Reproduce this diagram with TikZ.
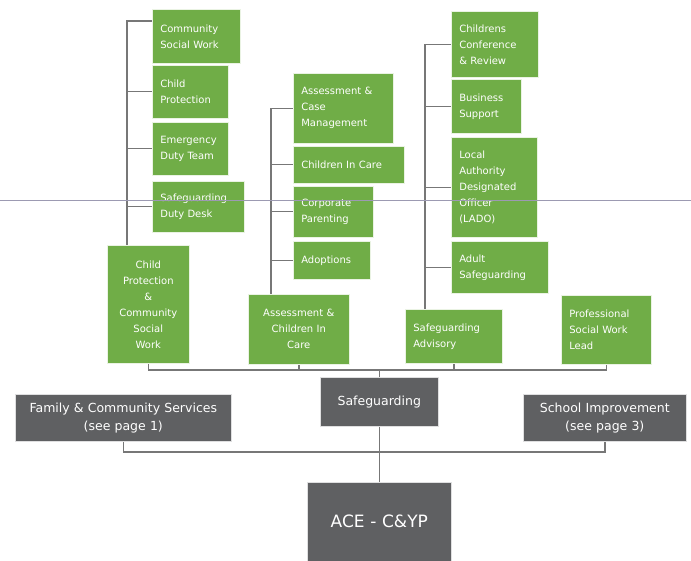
\documentclass[tikz,border=0pt]{standalone}
\usepackage{fontspec}
\setmainfont{DejaVu Sans}
\usepackage{tikz}
\pgfdeclarelayer{background}
\pgfdeclarelayer{foreground}
\pgfsetlayers{background,main,foreground}
\definecolor{boxgreen}{HTML}{70AD47}
\definecolor{boxgrey}{HTML}{5F6062}
\definecolor{linegrey}{HTML}{777777}
\definecolor{rulegrey}{HTML}{9C9AB2}

\tikzset{
grn/.style={draw=white!85!boxgreen, line width=0.6pt, fill=boxgreen, text=white, anchor=north west, align=left, inner xsep=8pt, inner ysep=2pt, font=\fontsize{10}{16}\selectfont},
grnc/.style={grn, align=center},
gry/.style={draw=white!80!boxgrey, line width=0.6pt, fill=boxgrey, text=white, anchor=north west, align=center, inner xsep=4pt, inner ysep=2pt, font=\fontsize{12.5}{18}\selectfont},
conn/.style={draw=linegrey, line width=1.4pt}
}

\begin{document}
\begin{tikzpicture}[x=1pt,y=-1pt]
\useasboundingbox (0,0) rectangle (691,561);

% first column
\node[grn, text width=72pt, minimum height=54pt] (csw) at (152,9) {Community\\Social Work};
\node[grn, text width=60pt, minimum height=53pt] (cp) at (152,65) {Child\\Protection};
\node[grn, text width=60pt, minimum height=53pt] (edt) at (152,122) {Emergency\\Duty Team};
\node[grn, text width=76pt, minimum height=51pt] (sdd) at (152,181) {Safeguarding\\Duty Desk};
\node[grnc, text width=66pt, minimum height=118pt] (ccsw) at (107,245) {Child\\Protection\\\&\\Community\\Social\\Work};

% second column
\node[grn, text width=84pt, minimum height=70pt] (acm) at (293,73) {Assessment \&\\Case\\Management};
\node[grn, text width=95pt, minimum height=37pt] (cic) at (293,146) {Children In Care};
\node[grn, text width=64pt, minimum height=51pt] (crp) at (293,186) {Corporate\\Parenting};
\node[grn, text width=61pt, minimum height=38pt] (adp) at (293,241) {Adoptions};
\node[grnc, text width=85pt, minimum height=70pt] (acic) at (248,294) {Assessment \&\\Children In\\Care};

% third column
\node[grn, text width=71pt, minimum height=66pt] (ccr) at (451,11) {Childrens\\Conference\\\& Review};
\node[grn, text width=54pt, minimum height=54pt] (bs) at (451,79) {Business\\Support};
\node[grn, text width=70pt, minimum height=100pt] (lado) at (451,137) {Local\\Authority\\Designated\\Officer\\(LADO)};
\node[grn, text width=81pt, minimum height=52pt] (as) at (451,241) {Adult\\Safeguarding};
\node[grn, text width=81pt, minimum height=54pt] (sa) at (405,309) {Safeguarding\\Advisory};

\node[grn, text width=74pt, minimum height=69pt] (pswl) at (561,295) {Professional\\Social Work\\Lead};

% grey row
\node[gry, text width=110pt, minimum height=49pt] (sg) at (320,377) {Safeguarding};
\node[gry, text width=208pt, minimum height=47pt] (fcs) at (15,394) {Family \& Community Services\\(see page 1)};
\node[gry, text width=155pt, minimum height=47pt] (sip) at (523,394) {School Improvement\\(see page 3)};
\node[gry, text width=136pt, minimum height=79pt, font=\fontsize{17}{20}\selectfont] (ace) at (307,482) {ACE - C\&YP};

\coordinate (bus) at (0,370);
\coordinate (lowbus) at (0,452);

\begin{pgfonlayer}{background}
\draw[conn] ([yshift=-12pt]csw.north west) -- ++(-25,0) coordinate (c1) -- (c1 |- ccsw.north);
\foreach \n in {cp,edt,sdd}
  \draw[conn] (\n.west) -- (\n.west -| c1);
\draw[conn] (acm.west) -- ++(-22,0) coordinate (c2) -- (c2 |- acic.north);
\foreach \n in {cic,crp,adp}
  \draw[conn] (\n.west) -- (\n.west -| c2);
\draw[conn] (ccr.west) -- ++(-26,0) coordinate (c3) -- (c3 |- sa.north);
\foreach \n in {bs,lado,as}
  \draw[conn] (\n.west) -- (\n.west -| c3);

\draw[conn] (ccsw.south) |- (bus -| pswl.south) -- (pswl.south);
\draw[conn] (acic.south) -- (acic.south |- bus);
\draw[conn] (sa.south) -- (sa.south |- bus);
\draw[conn] (sg.north) -- (sg.north |- bus);
\draw[conn] (fcs.south) |- (lowbus -| sip.south) -- (sip.south);
\draw[conn] (sg.south) -- (ace.north);
\end{pgfonlayer}

% stray page rule
\begin{pgfonlayer}{foreground}
\draw[rulegrey, line width=0.7pt] (0,200) -- (691,200);
\end{pgfonlayer}
\end{tikzpicture}
\end{document}
